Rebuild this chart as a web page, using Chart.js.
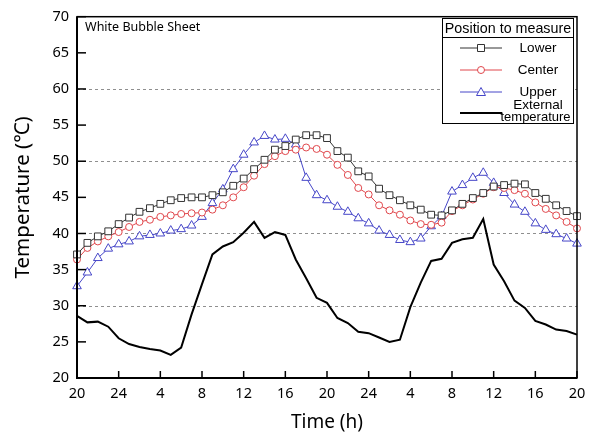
<!DOCTYPE html>
<html>
<head>
<meta charset="utf-8">
<title>White Bubble Sheet</title>
<script src="https://cdn.jsdelivr.net/npm/chart.js@4.4.0/dist/chart.umd.min.js"></script>
<style>
  html, body { margin: 0; padding: 0; background: #fff; }
  #wrap { width: 601px; height: 435px; }
</style>
</head>
<body>
<div id="wrap"><canvas id="tempChart" width="601" height="435"></canvas></div>
<script>
// clock hour of every hourly reading (20h day 1 -> 20h day 3)
const hours = [20, 21, 22, 23, 24, 1, 2, 3, 4, 5, 6, 7, 8, 9, 10, 11, 12, 13, 14, 15, 16, 17, 18, 19,
               20, 21, 22, 23, 24, 1, 2, 3, 4, 5, 6, 7, 8, 9, 10, 11, 12, 13, 14, 15, 16, 17, 18, 19, 20];

const lower = [37.1, 38.7, 39.6, 40.3, 41.3, 42.2, 43.0, 43.5, 44.1, 44.6,
               44.9, 45.0, 45.0, 45.3, 45.7, 46.6, 47.6, 48.9, 50.2, 51.6,
               52.1, 53.0, 53.6, 53.6, 53.2, 51.4, 50.5, 48.6, 47.9, 46.2,
               45.3, 44.6, 43.9, 43.3, 42.6, 42.5, 43.2, 44.1, 44.9, 45.6,
               46.5, 46.7, 46.9, 46.8, 45.6, 44.8, 43.9, 43.1, 42.4];

const center = [36.4, 38.0, 38.9, 39.6, 40.2, 40.9, 41.6, 41.9, 42.3, 42.5,
                42.7, 42.8, 42.9, 43.3, 43.9, 45.0, 46.4, 48.0, 49.6, 50.7,
                51.4, 51.6, 51.9, 51.7, 50.9, 49.5, 48.1, 46.3, 45.4, 43.9,
                43.2, 42.6, 41.8, 41.3, 41.2, 41.5, 43.1, 43.9, 44.7, 45.5,
                46.4, 46.3, 46.0, 45.5, 44.3, 43.4, 42.5, 41.6, 40.7];

const upper = [32.7, 34.6, 36.6, 37.9, 38.5, 38.9, 39.6, 39.8, 40.0, 40.4,
               40.6, 41.1, 42.3, 44.2, 46.1, 48.9, 50.9, 52.6, 53.5, 53.0,
               53.1, 52.3, 47.7, 45.3, 44.6, 43.7, 43.0, 42.1, 41.4, 40.4,
               39.8, 39.1, 38.8, 39.3, 41.0, 42.4, 45.8, 46.7, 47.7, 48.4,
               47.0, 45.6, 44.0, 43.0, 41.4, 40.5, 39.9, 39.3, 38.6];

const external = [28.6, 27.7, 27.8, 27.1, 25.5, 24.7, 24.3, 24.0, 23.8, 23.2,
                  24.2, 28.8, 33.0, 37.1, 38.2, 38.8, 40.1, 41.6, 39.4, 40.2,
                  39.8, 36.4, 33.8, 31.1, 30.4, 28.3, 27.6, 26.4, 26.2, 25.6,
                  25.0, 25.3, 29.8, 33.2, 36.2, 36.5, 38.7, 39.2, 39.4, 42.0,
                  35.7, 33.4, 30.7, 29.7, 27.9, 27.4, 26.7, 26.5, 26.0];

const gridVals = [30, 40, 50, 60];
const yTicks = [20, 25, 30, 35, 40, 45, 50, 55, 60, 65, 70];

const legendItems = [
  { text: ['Lower'], color: '#333333', style: 'rect', width: 1 },
  { text: ['Center'], color: '#e0474c', style: 'circle', width: 1 },
  { text: ['Upper'], color: '#4646c8', style: 'triangle', width: 1 },
  { text: ['External', 'temperature'], color: '#000000', style: null, width: 2 }
];

function marker(ctx, style, cx, cy, color) {
  ctx.save();
  ctx.strokeStyle = color;
  ctx.fillStyle = '#fff';
  ctx.lineWidth = 1;
  ctx.beginPath();
  if (style === 'rect') {
    ctx.rect(cx - 3.5, cy - 3.5, 7, 7);
  } else if (style === 'circle') {
    ctx.arc(cx, cy, 3.5, 0, Math.PI * 2);
  } else if (style === 'triangle') {
    ctx.moveTo(cx, cy - 4.5);
    ctx.lineTo(cx + 4.5, cy + 3.5);
    ctx.lineTo(cx - 4.5, cy + 3.5);
    ctx.closePath();
  }
  ctx.fill();
  ctx.stroke();
  ctx.restore();
}

// dashed grid, frame, inward ticks, caption and the boxed legend
const decorations = {
  id: 'decorations',
  beforeDatasetsDraw(chart) {
    const { ctx, chartArea: a, scales: { y } } = chart;
    ctx.save();
    ctx.strokeStyle = '#8f8f8f';
    ctx.lineWidth = 1;
    ctx.setLineDash([3, 3]);
    gridVals.forEach(v => {
      const py = Math.round(y.getPixelForValue(v)) + 0.5;
      ctx.beginPath();
      ctx.moveTo(a.left, py);
      ctx.lineTo(a.right, py);
      ctx.stroke();
    });
    ctx.restore();
  },
  afterDatasetsDraw(chart) {
    const { ctx, chartArea: a, scales: { x, y } } = chart;
    ctx.save();
    ctx.strokeStyle = '#000';

    // frame
    ctx.lineWidth = 1.5;
    ctx.strokeRect(a.left, a.top, a.right - a.left, a.bottom - a.top);
    ctx.lineWidth = 2;
    ctx.beginPath();
    ctx.moveTo(a.left, a.top);
    ctx.lineTo(a.left, a.bottom);
    ctx.lineTo(a.right, a.bottom);
    ctx.stroke();

    // inward ticks
    ctx.lineWidth = 1.5;
    yTicks.forEach(v => {
      const py = y.getPixelForValue(v);
      ctx.beginPath();
      ctx.moveTo(a.left, py);
      ctx.lineTo(a.left + 9, py);
      ctx.stroke();
    });
    hours.forEach((h, i) => {
      if (i % 4 !== 0) return;
      const px = x.getPixelForValue(i);
      ctx.beginPath();
      ctx.moveTo(px, a.bottom);
      ctx.lineTo(px, a.bottom - 7);
      ctx.stroke();
    });

    // caption
    ctx.fillStyle = '#000';
    ctx.font = '12.5px "Noto Sans", sans-serif';
    ctx.textAlign = 'left';
    ctx.textBaseline = 'middle';
    ctx.fillText('White Bubble Sheet', a.left + 8, a.top + 11);

    // legend box
    const bx = 442, by = 18, bw = 131, bh = 105;
    ctx.fillStyle = '#fff';
    ctx.fillRect(bx, by, bw, bh);
    ctx.lineWidth = 1;
    ctx.strokeRect(bx + 0.5, by + 0.5, bw, bh);
    ctx.beginPath();
    ctx.moveTo(bx, by + 19.5);
    ctx.lineTo(bx + bw, by + 19.5);
    ctx.stroke();

    ctx.fillStyle = '#000';
    ctx.font = '14.3px "Liberation Sans", Arial, sans-serif';
    ctx.textAlign = 'center';
    ctx.fillText('Position to measure', bx + bw / 2 + 0.5, by + 11);

    const rows = [30, 52, 74, 95];
    ctx.font = '13.5px "Liberation Sans", Arial, sans-serif';
    legendItems.forEach((it, k) => {
      const ry = by + rows[k];
      ctx.strokeStyle = it.color;
      ctx.lineWidth = it.width;
      ctx.beginPath();
      ctx.moveTo(bx + 18, ry);
      ctx.lineTo(bx + 60, ry);
      ctx.stroke();
      if (it.style) marker(ctx, it.style, bx + 39, ry, it.color);
      ctx.fillStyle = '#000';
      if (it.text.length > 1) {
        ctx.fillText(it.text[0], bx + 96, ry - 8);
        ctx.font = '13px "Liberation Sans", Arial, sans-serif';
        ctx.fillText(it.text[1], bx + 93.5, ry + 4);
      } else {
        ctx.fillText(it.text[0], bx + 96, ry);
      }
    });
    ctx.restore();
  }
};

const ctx = document.getElementById('tempChart').getContext('2d');
const chart = new Chart(ctx, {
  type: 'line',
  data: {
    labels: hours,
    datasets: [
      {
        label: 'Lower',
        data: lower,
        borderColor: '#333333',
        borderWidth: 1,
        pointStyle: 'rect',
        pointRadius: 4.8,
        pointBorderWidth: 1,
        pointBackgroundColor: '#fff',
        pointBorderColor: '#333333',
        tension: 0
      },
      {
        label: 'Center',
        data: center,
        borderColor: '#e0474c',
        borderWidth: 1,
        pointStyle: 'circle',
        pointRadius: 3.5,
        pointBorderWidth: 1,
        pointBackgroundColor: '#fff',
        pointBorderColor: '#e0474c',
        tension: 0
      },
      {
        label: 'Upper',
        data: upper,
        borderColor: '#4646c8',
        borderWidth: 1,
        pointStyle: 'triangle',
        pointRadius: 5,
        pointBorderWidth: 1,
        pointBackgroundColor: '#fff',
        pointBorderColor: '#4646c8',
        tension: 0
      },
      {
        label: 'External temperature',
        data: external,
        borderColor: '#000',
        borderWidth: 2,
        pointRadius: 0,
        tension: 0
      }
    ]
  },
  options: {
    responsive: false,
    animation: false,
    devicePixelRatio: 1,
    layout: {
      padding: { left: 0, right: 24, top: 12, bottom: 0 }
    },
    plugins: {
      legend: { display: false },
      tooltip: { enabled: false }
    },
    scales: {
      x: {
        type: 'category',
        offset: false,
        grid: { display: false, drawTicks: false },
        border: { display: false },
        ticks: {
          autoSkip: false,
          maxRotation: 0,
          padding: 7,
          color: '#000',
          font: { family: '"Noto Sans", sans-serif', size: 14.5 },
          callback: (v, i) => (i % 4 === 0 ? String(hours[i]) : null)
        },
        title: {
          display: true,
          text: 'Time (h)',
          color: '#000',
          font: { family: '"Noto Sans", "Noto Sans CJK KR", sans-serif', size: 19 },
          padding: { top: 0, bottom: 1 }
        },
        afterFit: s => { s.height = 57; }
      },
      y: {
        min: 20,
        max: 70,
        grid: { display: false, drawTicks: false },
        border: { display: false },
        ticks: {
          stepSize: 5,
          padding: 8,
          color: '#000',
          font: { family: '"Noto Sans", sans-serif', size: 14.5 }
        },
        title: {
          display: true,
          text: 'Temperature (℃)',
          color: '#000',
          font: { family: '"Noto Sans", "Noto Sans CJK KR", sans-serif', size: 20.5 },
          padding: { top: 11, bottom: 0 }
        },
        afterFit: s => { s.width = 77; }
      }
    }
  },
  plugins: [decorations]
});
</script>
</body>
</html>
